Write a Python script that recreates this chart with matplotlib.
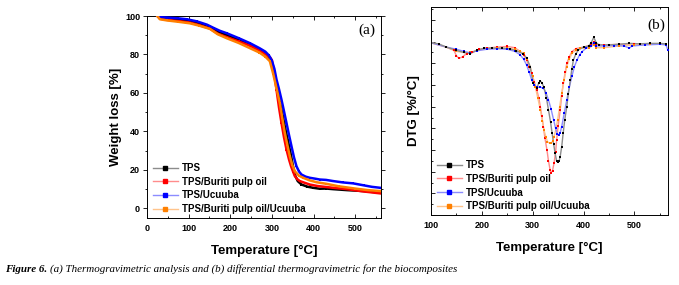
import matplotlib
matplotlib.use("Agg")
import matplotlib.pyplot as plt
from matplotlib.lines import Line2D
from matplotlib.ticker import MultipleLocator

# ---------------- data ----------------
labels = ["TPS", "TPS/Buriti pulp oil", "TPS/Ucuuba", "TPS/Buriti pulp oil/Ucuuba"]
colors = ["#000000", "#ff0000", "#0000ff", "#ff8000"]
light = ["#8c8c8c", "#ff8c8c", "#8c8cff", "#ffc48c"]

# TGA (a): temperature [°C], weight [%]
tga_tps_t = [25, 31, 48, 75, 103, 125, 151, 170, 192, 220, 248, 270, 284, 296, 302, 308, 314, 320, 326, 332, 338, 344, 351, 356, 362, 371, 385, 399, 415, 430, 447, 480, 520, 560]
tga_tps_w = [100, 99, 98.7, 98.2, 97.3, 96.3, 94.3, 92, 90, 87.8, 85.2, 82.8, 80.6, 77.5, 73.5, 67, 61, 54.5, 48, 41.5, 35.5, 29.5, 21.5, 17, 14.2, 12.4, 11.3, 10.7, 10.2, 10.3, 10.0, 9.5, 9.0, 8.2]

tga_bur_t = [25, 31, 48, 75, 103, 125, 151, 170, 192, 220, 248, 270, 284, 296, 300, 305, 311, 317, 323, 329, 335, 341, 346, 351, 355, 361, 367, 380, 391, 410, 447, 480, 520, 560]
tga_bur_w = [100, 98.6, 98.0, 97.4, 96.6, 95.3, 93.5, 90.8, 89, 86.8, 84.5, 82.0, 80.2, 78.4, 77.0, 71, 61.7, 52.5, 44.4, 37, 30.6, 25.5, 21.9, 19, 16.8, 15.2, 14.2, 13.2, 12.4, 11.6, 10.7, 10.0, 8.8, 7.8]

tga_ucu_t = [25, 31, 48, 75, 96, 120, 144, 160, 175, 192, 220, 248, 270, 284, 293, 300, 306, 311, 317, 323, 329, 335, 341, 347, 353, 359, 365, 371, 381, 391, 405, 415, 430, 447, 470, 495, 520, 540, 560]
tga_ucu_w = [100, 99.4, 99.2, 98.8, 98.3, 97.2, 95.5, 93.8, 92.3, 91, 88.5, 85.8, 83.3, 81.5, 79.5, 76.8, 72.5, 67, 62, 56.5, 50.5, 44.4, 38.2, 32.3, 26.5, 21.9, 19.2, 17.6, 16.5, 15.9, 15.4, 15.0, 14.8, 14.2, 13.5, 13.0, 12.0, 11.2, 10.7]

tga_bu_t = [25, 31, 48, 75, 103, 125, 151, 170, 192, 220, 248, 270, 284, 295, 303, 311, 319, 325, 331, 337, 343, 349, 355, 365, 375, 390, 407, 430, 460, 500, 530, 560]
tga_bu_w = [100, 98.3, 97.7, 97.0, 96.2, 95, 93.3, 90.5, 88.4, 86, 83.2, 81, 78.9, 76.5, 70, 62.5, 54.7, 46.8, 39.2, 33, 27.1, 22.5, 19.3, 17.0, 15.9, 14.6, 13.6, 12.8, 11.5, 10.3, 9.5, 9.0]

# DTG (b): temperature [°C], DTG [%/°C] (arbitrary offset scale)
dtg_tps_t = [100, 115, 130, 150, 165, 177, 190, 205, 220, 240, 255, 268, 280, 288, 295, 301, 308, 312, 315, 318, 322, 327, 331, 335, 338, 341, 344, 347, 349, 352, 354, 357, 360, 363, 367, 370, 374, 377, 380, 385, 390, 400, 410, 415, 420, 425, 430, 450, 470, 490, 510, 530, 550, 562]
dtg_tps_v = [-0.05, -0.1, -0.25, -0.4, -0.5, -0.55, -0.4, -0.3, -0.3, -0.3, -0.33, -0.42, -0.55, -0.75, -1.15, -1.9, -2.15, -1.9, -1.82, -1.9, -2.1, -2.6, -3.15, -3.7, -4.2, -4.7, -5.15, -5.5, -5.57, -5.5, -5.3, -4.85, -4.2, -3.6, -3.0, -2.4, -1.77, -1.25, -0.85, -0.55, -0.38, -0.25, -0.2, -0.05, 0.2, -0.05, -0.15, -0.15, -0.12, -0.08, -0.1, -0.08, -0.08, -0.1]

dtg_bur_t = [100, 130, 145, 150, 155, 162, 170, 180, 195, 210, 230, 250, 265, 275, 282, 288, 293, 298, 303, 308, 312, 315, 318, 321, 324, 328, 331, 334, 336, 339, 342, 345, 347, 350, 354, 357, 360, 364, 367, 372, 377, 385, 400, 415, 420, 425, 440, 470, 500, 530, 562]
dtg_bur_v = [-0.05, -0.25, -0.4, -0.65, -0.77, -0.7, -0.55, -0.5, -0.35, -0.3, -0.25, -0.22, -0.28, -0.45, -0.6, -0.85, -1.15, -1.46, -1.85, -2.23, -2.6, -3.0, -3.45, -3.92, -4.45, -5.0, -5.5, -5.9, -6.05, -5.95, -5.6, -5.1, -4.54, -3.9, -3.15, -2.5, -1.92, -1.4, -1.0, -0.7, -0.46, -0.32, -0.25, -0.15, 0.0, -0.12, -0.15, -0.12, -0.1, -0.1, -0.1]

dtg_ucu_t = [100, 130, 150, 165, 177, 190, 210, 230, 250, 265, 275, 282, 288, 293, 298, 303, 308, 315, 321, 326, 331, 336, 341, 345, 348, 351, 354, 357, 362, 367, 372, 377, 382, 387, 392, 397, 405, 415, 420, 425, 440, 460, 480, 490, 495, 520, 550, 562, 566]
dtg_ucu_v = [-0.05, -0.25, -0.35, -0.45, -0.52, -0.42, -0.35, -0.33, -0.35, -0.45, -0.6, -0.8, -1.08, -1.4, -1.77, -2.0, -2.11, -2.1, -2.15, -2.35, -2.69, -3.1, -3.6, -4.0, -4.25, -4.31, -4.2, -3.92, -3.3, -2.69, -2.1, -1.6, -1.15, -0.85, -0.62, -0.46, -0.3, -0.2, -0.05, -0.2, -0.2, -0.18, -0.2, -0.3, -0.2, -0.15, -0.12, -0.15, -0.4]

dtg_bu_t = [100, 130, 150, 165, 177, 190, 210, 230, 250, 265, 275, 282, 288, 295, 300, 305, 310, 315, 319, 322, 326, 329, 333, 336, 339, 342, 346, 349, 353, 357, 362, 367, 372, 377, 385, 393, 410, 420, 425, 440, 470, 500, 530, 562]
dtg_bu_v = [-0.05, -0.25, -0.45, -0.5, -0.5, -0.4, -0.33, -0.3, -0.3, -0.35, -0.45, -0.54, -0.8, -1.15, -1.6, -2.08, -2.6, -3.15, -3.65, -4.08, -4.4, -4.62, -4.68, -4.69, -4.6, -4.38, -4.0, -3.6, -3.0, -2.38, -1.75, -1.15, -0.8, -0.54, -0.4, -0.31, -0.3, -0.15, -0.28, -0.28, -0.2, -0.15, -0.12, -0.12]

tga_series = [(tga_tps_t, tga_tps_w), (tga_bur_t, tga_bur_w), (tga_ucu_t, tga_ucu_w), (tga_bu_t, tga_bu_w)]
dtg_series = [(dtg_tps_t, dtg_tps_v), (dtg_bur_t, dtg_bur_v), (dtg_ucu_t, dtg_ucu_v), (dtg_bu_t, dtg_bu_v)]

# ---------------- figure ----------------
W, H = 679, 285
fig = plt.figure(figsize=(W / 100, H / 100), dpi=100)
SANS = ["Liberation Sans", "DejaVu Sans"]
SERIF = ["Liberation Serif", "DejaVu Serif"]

def fr(l, t, r, b):
    return [l / W, 1 - b / H, (r - l) / W, (b - t) / H]

axa = fig.add_axes(fr(147, 16, 381, 218))
axb = fig.add_axes(fr(431, 7, 668, 215))

# panel (a)
for i in [0, 1, 2, 3]:
    t, w = tga_series[i]
    axa.plot(t, w, color=colors[i], lw=1.8, marker="s", ms=1.8, mew=0, zorder=2 + i)
axa.set_xlim(0, 562)
axa.set_ylim(-5, 100)
axa.xaxis.set_major_locator(MultipleLocator(100))
axa.xaxis.set_minor_locator(MultipleLocator(50))
axa.yaxis.set_major_locator(MultipleLocator(20))
axa.yaxis.set_minor_locator(MultipleLocator(10))
axa.tick_params(axis="x", which="both", direction="in", top=True, labelsize=6.5, pad=4)
axa.tick_params(axis="y", which="both", direction="out", right=True, labelsize=6.5, pad=2)
axa.tick_params(which="major", length=3, width=0.6)
axa.tick_params(which="minor", length=1.5, width=0.6)
axa.set_xlabel("Temperature [°C]", fontsize=9.5, fontweight="bold", family=SANS, labelpad=9)
axa.set_ylabel("Weight loss [%]", fontsize=9.5, fontweight="bold", family=SANS, labelpad=2)
axa.text(0.94, 0.93, "(a)", transform=axa.transAxes, ha="center", va="center", fontsize=11, family=SERIF)

# panel (b)
order_b = [1, 3, 2, 0]
for k, i in enumerate(order_b):
    t, v = dtg_series[i]
    axb.plot(t, v, color=light[i], lw=1.0, zorder=2 + k)
    axb.plot(t, v, color=colors[i], lw=0, marker="s", ms=1.9, mew=0, zorder=6 + k)
axb.set_xlim(100, 566)
axb.set_ylim(-8, 1.6)
axb.xaxis.set_major_locator(MultipleLocator(100))
axb.xaxis.set_minor_locator(MultipleLocator(50))
axb.yaxis.set_major_locator(MultipleLocator(1))
axb.yaxis.set_minor_locator(MultipleLocator(0.5))
axb.tick_params(which="both", direction="in", top=True, right=False, labelsize=6.5)
axb.tick_params(axis="y", which="both", labelleft=False)
axb.tick_params(which="major", length=3, width=0.6)
axb.tick_params(which="minor", length=1.5, width=0.6)
axb.tick_params(axis="x", pad=4)
axb.set_xlabel("Temperature [°C]", fontsize=9.5, fontweight="bold", family=SANS, labelpad=9)
axb.set_ylabel("DTG [%/°C]", fontsize=9.5, fontweight="bold", family=SANS, labelpad=8)
axb.text(0.95, 0.91, "(b)", transform=axb.transAxes, ha="center", va="center", fontsize=11, family=SERIF)

for ax in (axa, axb):
    for s in ax.spines.values():
        s.set_linewidth(0.7)
    for lab in ax.get_xticklabels() + ax.get_yticklabels():
        lab.set_fontweight("bold")
        lab.set_family(SANS)

handles = [Line2D([0], [0], color=light[i], lw=1.0, marker="s", ms=2.2, mfc=colors[i], mec=colors[i]) for i in range(4)]
for ax in (axa, axb):
    ax.legend(handles, labels, loc="lower left", bbox_to_anchor=(0.0, -0.01), frameon=False,
              prop={"family": SANS, "weight": "bold", "size": 7}, handlelength=2.6,
              handletextpad=0.4, labelspacing=0.38, borderaxespad=0.2)

# caption
fig.canvas.draw()
r = fig.canvas.get_renderer()
t1 = fig.text(5 / W, 1 - 269 / H, "Figure 6.", fontsize=7.9, style="italic", fontweight="bold", family=SERIF, va="center")
bb = t1.get_window_extent(renderer=r)
fig.text((bb.x1 + 3) / W, 1 - 269 / H, "(a) Thermogravimetric analysis and (b) differential thermogravimetric for the biocomposites",
         fontsize=7.9, style="italic", family=SERIF, va="center")

fig.savefig("out.png", dpi=100)
